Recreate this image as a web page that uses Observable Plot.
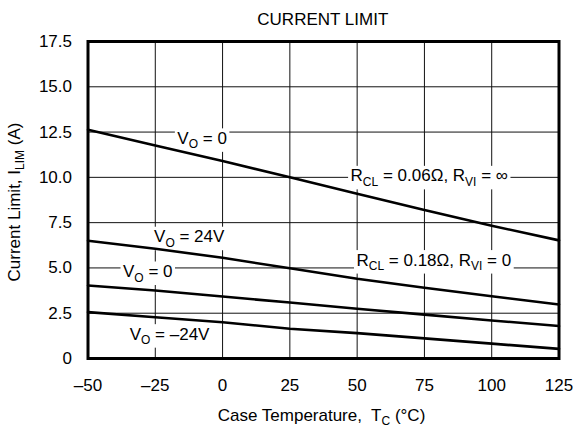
<!DOCTYPE html>
<html>
<head>
<meta charset="utf-8">
<script src="https://cdn.jsdelivr.net/npm/d3@7"></script>
<script src="https://cdn.jsdelivr.net/npm/@observablehq/plot@0.6"></script>
<style>
  html, body { margin: 0; padding: 0; background: #fff; }
  svg text { white-space: pre; }
</style>
</head>
<body>
<div id="chart"></div>
<script>
// ---- data ----
const title = "CURRENT LIMIT";
const xLabel = "Case Temperature,  T_{C} (°C)";
const yLabel = "Current Limit, I_{LIM} (A)";

const temps = [-50, -25, 0, 25, 50, 75, 100, 125];
const seriesNames = ["RCL 0.06, VO 0", "RCL 0.18, VO 24V", "RCL 0.18, VO 0", "RCL 0.18, VO -24V"];
const rcl006_vo0   = [12.63, 11.76, 10.9, 10.0, 9.1, 8.2, 7.33, 6.52];
const rcl018_vo24  = [6.5, 6.06, 5.56, 4.98, 4.4, 3.91, 3.44, 2.98];
const rcl018_vo0   = [4.03, 3.75, 3.42, 3.09, 2.75, 2.42, 2.1, 1.79];
const rcl018_vom24 = [2.56, 2.28, 2.0, 1.64, 1.4, 1.11, 0.82, 0.53];

const xTicks = [-50, -25, 0, 25, 50, 75, 100, 125];
const xTickLabels = ["–50", "–25", "0", "25", "50", "75", "100", "125"];
const yTicks = [0, 2.5, 5, 7.5, 10, 12.5, 15, 17.5];
const yTickLabels = ["0", "2.5", "5.0", "7.5", "10.0", "12.5", "15.0", "17.5"];

const labelTexts = ["V_{O} = 0", "R_{CL} = 0.06Ω, R_{VI} = ∞", "V_{O} = 24V", "V_{O} = 0", "R_{CL} = 0.18Ω, R_{VI} = 0", "V_{O} = –24V"];
const labelX = [-7.6, 76.8, -12.4, -27.8, 78.5, -19.7];
const labelY = [12.15, 10.08, 6.72, 4.8, 5.43, 1.34];

// ---- tables built from the arrays ----
const seriesValues = [rcl006_vo0, rcl018_vo24, rcl018_vo0, rcl018_vom24];
const rows = [];
seriesNames.forEach((s, si) => temps.forEach((t, i) => rows.push({s, t, v: seriesValues[si][i]})));
const labels = labelTexts.map((text, i) => ({text, x: labelX[i], y: labelY[i]}));

const chart = Plot.plot({
  width: 573,
  height: 430,
  marginTop: 41,
  marginBottom: 72,
  marginLeft: 87.5,
  marginRight: 14.5,
  style: {fontFamily: "'Liberation Sans', Arial, sans-serif", fontSize: "17px", background: "#fff", color: "#000"},
  x: {domain: [-50, 125], ticks: xTicks, tickFormat: d => xTickLabels[xTicks.indexOf(d)], tickSize: 0, tickPadding: 20, label: null},
  y: {domain: [0, 17.5], ticks: yTicks, tickFormat: d => yTickLabels[yTicks.indexOf(d)], tickSize: 0, tickPadding: 16, label: null},
  marks: [
    Plot.ruleX(xTicks, {x: d => d, stroke: "#111", strokeWidth: 1}),
    Plot.ruleY(yTicks, {y: d => d, stroke: "#111", strokeWidth: 1}),
    Plot.line(rows, {x: "t", y: "v", z: "s", stroke: "#000", strokeWidth: 2.6}),
    Plot.text(labels, {x: "x", y: "y", text: "text", fill: "#000", textAnchor: "middle", lineAnchor: "middle"}),
    Plot.frame({stroke: "#000", strokeWidth: 3}),
    Plot.text([title], {text: d => d, frameAnchor: "top", textAnchor: "middle", lineAnchor: "middle", dy: -22.4, dx: -0.7, fill: "#000"}),
    Plot.text([xLabel], {text: d => d, frameAnchor: "bottom", textAnchor: "middle", lineAnchor: "middle", dy: 56.6, dx: -2, fill: "#000"}),
    Plot.text([yLabel], {text: d => d, frameAnchor: "left", textAnchor: "middle", lineAnchor: "middle", rotate: -90, dx: -73.5, dy: 2, fill: "#000"})
  ]
});

document.getElementById("chart").append(chart);

// ---- subscripts & label boxes ----
const NS = "http://www.w3.org/2000/svg";
const SUB_SHIFT = 4.5, SUB_SIZE = 12;
function applySubs(el) {
  const s = el.textContent;
  if (!s.includes("_{")) return;
  const re = /_\{([^}]*)\}/g;
  const parts = [];
  let last = 0, m;
  while ((m = re.exec(s))) {
    parts.push([s.slice(last, m.index), false]);
    parts.push([m[1], true]);
    last = re.lastIndex;
  }
  parts.push([s.slice(last), false]);
  el.textContent = "";
  let shifted = false;
  for (const [t, sub] of parts) {
    if (!t) continue;
    const ts = document.createElementNS(NS, "tspan");
    ts.textContent = t;
    if (sub) {
      ts.setAttribute("font-size", SUB_SIZE);
      if (!shifted) ts.setAttribute("dy", SUB_SHIFT);
      shifted = true;
    } else if (shifted) {
      ts.setAttribute("dy", -SUB_SHIFT);
      shifted = false;
    }
    el.appendChild(ts);
  }
}
const svg = chart.tagName.toLowerCase() === "svg" ? chart : chart.querySelector("svg");
svg.querySelectorAll("text").forEach(applySubs);

const labelsG = svg.querySelectorAll('g[aria-label="text"]')[0];
const curvesG = svg.querySelector('g[aria-label="line"]');
if (labelsG && curvesG) {
  const boxG = document.createElementNS(NS, "g");
  const gt = labelsG.getAttribute("transform");
  if (gt) boxG.setAttribute("transform", gt);
  labelsG.querySelectorAll("text").forEach(t => {
    const b = t.getBBox();
    const r = document.createElementNS(NS, "rect");
    r.setAttribute("x", b.x - 2.5);
    r.setAttribute("y", b.y - 0.5);
    r.setAttribute("width", b.width + 5);
    r.setAttribute("height", b.height + 1);
    r.setAttribute("fill", "#fff");
    const tt = t.getAttribute("transform");
    if (tt) r.setAttribute("transform", tt);
    boxG.appendChild(r);
  });
  curvesG.parentNode.insertBefore(boxG, curvesG);
}
</script>
</body>
</html>
